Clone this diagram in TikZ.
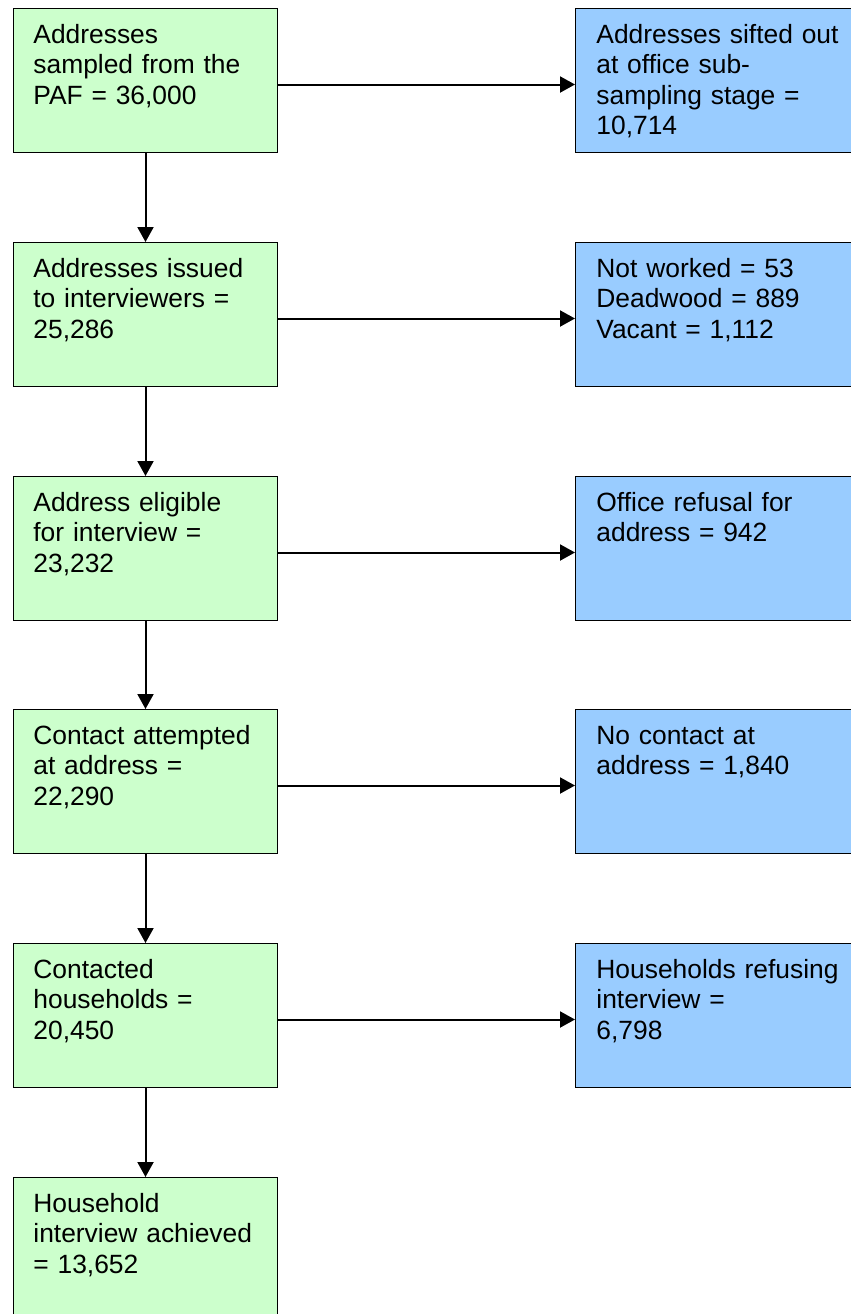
\documentclass[tikz,border=0pt]{standalone}
\usepackage{fontspec}
\setmainfont{Liberation Sans}
\usetikzlibrary{arrows,arrows.meta}
\usetikzlibrary{calc, positioning}
\definecolor{stagegreen}{HTML}{CCFFCC}
\definecolor{dropblue}{HTML}{99CCFF}
\tikzset{
    stage/.style={
        draw, line width=0.5pt, fill=stagegreen, rectangle,
        anchor=north west, inner sep=0pt,
        minimum width=132pt, minimum height=72pt
    },
    dropout/.style={stage, fill=dropblue, minimum width=150pt},
    boxtext/.style={
        anchor=base west, inner sep=0pt, text width=128pt, align=left,
        font=\fontsize{13.2pt}{15.3pt}\selectfont
    },
    flow/.style={line width=1pt, -{Triangle[length=7.5pt,width=8pt]}}
}

\begin{document}
\begin{tikzpicture}[x=0.5pt, y=-0.5pt]
    \useasboundingbox (0,0) rectangle (851,1314);
    % left column
    \coordinate (g1) at (13, 8);
    \coordinate (g2) at (13, 242);
    \coordinate (g3) at (13, 476);
    \coordinate (g4) at (13, 709);
    \coordinate (g5) at (13, 943);
    \coordinate (g6) at (13, 1177);
    % right column
    \coordinate (b1) at (575, 8);
    \coordinate (b2) at (575, 242);
    \coordinate (b3) at (575, 476);
    \coordinate (b4) at (575, 709);
    \coordinate (b5) at (575, 943);
    \node[stage] (s1) at (g1) {};
    \node[stage] (s2) at (g2) {};
    \node[stage] (s3) at (g3) {};
    \node[stage] (s4) at (g4) {};
    \node[stage] (s5) at (g5) {};
    \node[stage] (s6) at (g6) {};
    \node[dropout] (d1) at (b1) {};
    \node[dropout] (d2) at (b2) {};
    \node[dropout] (d3) at (b3) {};
    \node[dropout] (d4) at (b4) {};
    \node[dropout] (d5) at (b5) {};
    \node[boxtext] (s1t) at ([xshift=10pt, yshift=-17.5pt]s1.north west) {Addresses\\sampled from the\\PAF = 36,000};
    \node[boxtext] (s2t) at ([xshift=10pt, yshift=-17.5pt]s2.north west) {Addresses issued\\to interviewers =\\25,286};
    \node[boxtext] (s3t) at ([xshift=10pt, yshift=-17.5pt]s3.north west) {Address eligible\\for interview =\\23,232};
    \node[boxtext] (s4t) at ([xshift=10pt, yshift=-17.5pt]s4.north west) {Contact attempted\\at address =\\22,290};
    \node[boxtext] (s5t) at ([xshift=10pt, yshift=-17.5pt]s5.north west) {Contacted\\households =\\20,450};
    \node[boxtext] (s6t) at ([xshift=10pt, yshift=-17.5pt]s6.north west) {Household\\interview achieved\\= 13,652};
    \node[boxtext] (d1t) at ([xshift=10.5pt, yshift=-17.5pt]d1.north west) {Addresses sifted out\\at office sub-\\sampling stage =\\10,714};
    \node[boxtext] (d2t) at ([xshift=10.5pt, yshift=-17.5pt]d2.north west) {Not worked = 53\\Deadwood = 889\\Vacant = 1,112};
    \node[boxtext] (d3t) at ([xshift=10.5pt, yshift=-17.5pt]d3.north west) {Office refusal for\\address = 942};
    \node[boxtext] (d4t) at ([xshift=10.5pt, yshift=-17.5pt]d4.north west) {No contact at\\address = 1,840};
    \node[boxtext] (d5t) at ([xshift=10.5pt, yshift=-17.5pt]d5.north west) {Households refusing\\interview =\\6,798};
    % arrows down
    \draw[flow] (s1) -- (s2);
    \draw[flow] (s2) -- (s3);
    \draw[flow] (s3) -- (s4);
    \draw[flow] (s4) -- (s5);
    \draw[flow] (s5) -- (s6);
    % arrows across
    \draw[flow] ([yshift=-2pt]s1.east) -- ([yshift=-2pt]d1.west);
    \draw[flow] ([yshift=-2pt]s2.east) -- ([yshift=-2pt]d2.west);
    \draw[flow] ([yshift=-2pt]s3.east) -- ([yshift=-2pt]d3.west);
    \draw[flow] ([yshift=-2pt]s4.east) -- ([yshift=-2pt]d4.west);
    \draw[flow] ([yshift=-2pt]s5.east) -- ([yshift=-2pt]d5.west);
\end{tikzpicture}
\end{document}
